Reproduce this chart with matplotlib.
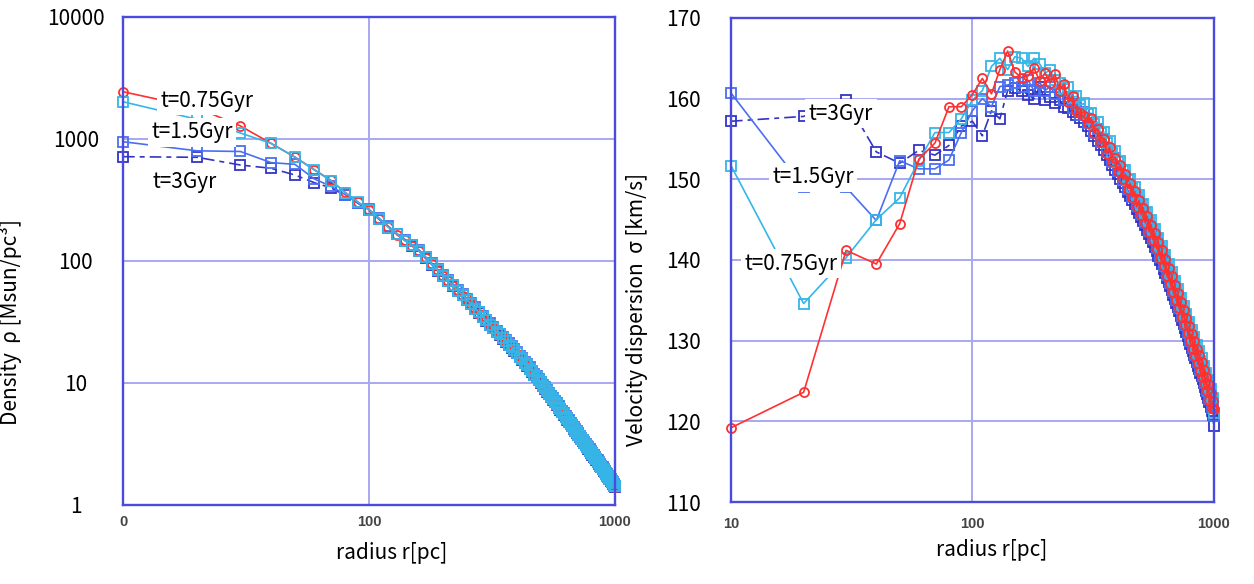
import numpy as np
import matplotlib
matplotlib.use("Agg")
import matplotlib.pyplot as plt
from matplotlib.ticker import FixedLocator, FixedFormatter, NullLocator

plt.rcParams["font.family"] = ["Noto Sans CJK JP", "DejaVu Sans"]

# =============================
# DATA
# =============================

# radial bins (pc), 10 pc spacing
radius = np.arange(10, 1001, 10)

# density rho [Msun/pc^3]
rho_075 = [2440, 1800, 1280, 920, 710, 560, 458, 365, 305,
           262, 219, 190, 164, 149, 132, 121, 105, 95.0, 83.0,
           75.0, 69.0, 62.0, 57.5, 52.0, 48.5, 44.0, 41.0, 36.5, 35.2,
           32.0, 30.4, 28.0, 26.5, 24.5, 23.4, 21.8, 20.8, 19.4, 18.7,
           17.4, 16.6, 15.5, 14.8, 13.8, 13.2, 12.3, 11.8, 11.1, 10.7,
           9.9, 9.55, 8.95, 8.62, 8.05, 7.78, 7.28, 7.02, 6.60, 6.36,
           5.98, 5.82, 5.45, 5.31, 5.00, 4.86, 4.56, 4.46, 4.20, 4.10,
           3.88, 3.80, 3.58, 3.52, 3.33, 3.26, 3.07, 3.03, 2.86, 2.81,
           2.66, 2.63, 2.47, 2.45, 2.31, 2.28, 2.16, 2.12, 2.02, 2.00,
           1.89, 1.87, 1.77, 1.76, 1.67, 1.65, 1.57, 1.55, 1.48, 1.46,
           1.40]
rho_15 = [2020, 1450, 1120, 920, 710, 557, 455, 364, 305,
          263, 222, 188, 167, 147, 135, 120, 107, 94.0, 84.5,
          76.0, 68.0, 63.0, 56.5, 53.0, 48.0, 44.8, 40.6, 38.0, 34.8,
          32.6, 30.0, 28.4, 26.2, 25.0, 23.2, 22.1, 20.6, 19.7, 18.5,
          17.7, 16.4, 15.7, 14.6, 14.0, 13.0, 12.5, 11.6, 11.3, 10.5,
          10.1, 9.45, 9.08, 8.52, 8.18, 7.68, 7.38, 6.93, 6.70, 6.29,
          6.08, 5.75, 5.55, 5.25, 5.08, 4.80, 4.64, 4.42, 4.27, 4.06,
          3.95, 3.76, 3.65, 3.48, 3.39, 3.22, 3.13, 2.99, 2.92, 2.78,
          2.72, 2.60, 2.52, 2.42, 2.36, 2.26, 2.20, 2.10, 2.06, 1.98,
          1.93, 1.85, 1.80, 1.74, 1.70, 1.63, 1.60, 1.53, 1.51, 1.44,
          1.42]
rho_mid = [950, 800, 790, 640, 620, 470, 410, 350, 300,
           265, 224, 192, 168, 150, 136, 123, 108, 96.0, 85.5,
           77.0, 69.8, 63.5, 58.0, 53.5, 49.2, 45.2, 41.7, 38.5, 35.7,
           33.0, 30.8, 28.7, 26.8, 25.3, 23.8, 22.4, 21.1, 20.0, 19.0,
           17.9, 16.8, 15.9, 15.0, 14.2, 13.4, 12.6, 11.9, 11.4, 10.8,
           10.2, 9.69, 9.20, 8.74, 8.29, 7.87, 7.49, 7.11, 6.80, 6.45,
           6.17, 5.90, 5.63, 5.39, 5.15, 4.93, 4.70, 4.53, 4.34, 4.16,
           4.01, 3.86, 3.70, 3.57, 3.44, 3.30, 3.17, 3.07, 2.96, 2.85,
           2.75, 2.66, 2.56, 2.48, 2.39, 2.32, 2.23, 2.15, 2.09, 2.03,
           1.96, 1.90, 1.83, 1.79, 1.72, 1.67, 1.62, 1.57, 1.53, 1.48,
           1.44]
rho_3 = [716, 708, 612, 575, 507, 438, 398, 345, 298,
         260, 220, 188, 165, 147, 133, 120, 105, 93.5, 83.5,
         75.0, 68.0, 62.0, 56.6, 52.2, 48.0, 44.1, 40.6, 37.5, 34.8,
         32.2, 30.0, 28.0, 26.1, 24.6, 23.1, 21.8, 20.5, 19.4, 18.4,
         17.5, 16.4, 15.5, 14.6, 13.8, 13.0, 12.3, 11.6, 11.1, 10.5,
         9.92, 9.42, 8.95, 8.50, 8.07, 7.66, 7.28, 6.92, 6.62, 6.27,
         6.00, 5.73, 5.48, 5.24, 5.01, 4.79, 4.58, 4.41, 4.22, 4.05,
         3.90, 3.75, 3.60, 3.47, 3.34, 3.21, 3.09, 2.99, 2.88, 2.77,
         2.68, 2.59, 2.49, 2.41, 2.32, 2.25, 2.17, 2.09, 2.03, 1.97,
         1.91, 1.85, 1.78, 1.74, 1.68, 1.63, 1.58, 1.53, 1.49, 1.44,
         1.40]

# velocity dispersion sigma [km/s]
sig_075 = [119.2, 123.6, 141.2, 139.5, 144.5, 152.5, 154.5, 159.0, 159.0,
           160.5, 162.5, 160.6, 163.6, 165.9, 163.3, 162.6, 162.8, 163.8, 162.2,
           163.2, 162.0, 163.0, 161.0, 161.8, 159.6, 160.3, 158.5, 158.2, 157.8,
           157.0, 157.6, 155.8, 156.3, 154.6, 155.0, 153.2, 154.0, 152.3, 152.6,
           151.0, 151.8, 150.0, 150.6, 148.8, 149.5, 147.8, 148.5, 146.6, 147.4,
           145.6, 146.5, 144.6, 145.4, 143.5, 144.4, 142.5, 143.3, 141.4, 142.2,
           140.2, 141.2, 139.2, 140.1, 138.0, 139.0, 137.0, 138.0, 136.0, 136.9,
           135.0, 135.9, 134.0, 134.8, 132.9, 133.8, 131.9, 132.8, 130.9, 131.8,
           129.9, 130.8, 129.0, 129.9, 128.1, 129.0, 127.2, 128.2, 126.3, 127.3,
           125.5, 126.4, 124.6, 125.5, 123.7, 124.6, 122.7, 123.5, 121.6, 122.5,
           121.5]
sig_15 = [151.7, 134.6, 140.3, 145.0, 147.7, 152.3, 155.8, 155.8, 157.5,
          159.8, 161.0, 164.0, 165.0, 163.6, 165.2, 165.0, 164.0, 165.0, 164.3,
          163.2, 163.5, 162.3, 162.0, 161.2, 161.4, 160.1, 160.3, 159.2, 159.4,
          158.1, 158.2, 156.9, 157.1, 155.7, 155.9, 154.5, 154.7, 153.3, 153.5,
          152.1, 152.3, 151.0, 151.2, 149.9, 150.1, 148.9, 149.1, 147.8, 148.0,
          146.8, 147.0, 145.8, 145.9, 144.7, 144.9, 143.7, 143.8, 142.6, 142.7,
          141.5, 141.7, 140.4, 140.6, 139.3, 139.5, 138.3, 138.5, 137.2, 137.4,
          136.2, 136.4, 135.2, 135.3, 134.1, 134.3, 133.1, 133.3, 132.1, 132.3,
          131.1, 131.3, 130.2, 130.4, 129.3, 129.5, 128.4, 128.7, 127.5, 127.8,
          126.7, 126.9, 125.8, 126.0, 124.9, 125.1, 123.9, 124.0, 122.8, 122.9,
          121.0]
sig_mid = [160.7, 149.0, 149.0, 144.9, 152.3, 151.3, 151.3, 152.4, 155.8,
           158.5, 160.0, 159.0, 161.5, 161.7, 162.0, 161.5, 162.3, 161.0, 162.0,
           161.0, 161.5, 160.6, 161.0, 159.8, 160.2, 158.9, 159.3, 158.0, 158.4,
           157.0, 157.4, 155.8, 156.2, 154.6, 155.0, 153.4, 153.8, 152.2, 152.6,
           151.0, 151.4, 149.9, 150.3, 148.8, 149.2, 147.8, 148.2, 146.7, 147.1,
           145.7, 146.1, 144.7, 145.0, 143.6, 144.0, 142.6, 142.9, 141.5, 141.8,
           140.4, 140.8, 139.3, 139.7, 138.2, 138.6, 137.2, 137.6, 136.1, 136.5,
           135.1, 135.5, 134.1, 134.4, 133.0, 133.4, 132.0, 132.4, 131.0, 131.4,
           130.0, 130.4, 129.1, 129.5, 128.2, 128.6, 127.3, 127.8, 126.4, 126.9,
           125.6, 126.0, 124.7, 125.1, 123.8, 124.2, 122.8, 123.1, 121.7, 122.1,
           120.6]
sig_3 = [157.2, 157.8, 159.8, 153.4, 152.0, 153.6, 153.0, 154.2, 156.6,
         157.2, 155.4, 158.5, 157.5, 161.0, 161.3, 161.0, 160.5, 160.0, 161.5,
         159.8, 160.2, 159.5, 159.8, 159.0, 158.9, 158.4, 158.0, 157.6, 157.1,
         156.6, 156.0, 155.4, 154.8, 154.2, 153.6, 153.0, 152.4, 151.8, 151.2,
         150.6, 150.1, 149.5, 149.0, 148.4, 147.9, 147.4, 146.9, 146.3, 145.8,
         145.3, 144.8, 144.3, 143.7, 143.2, 142.7, 142.2, 141.6, 141.1, 140.5,
         140.0, 139.5, 138.9, 138.4, 137.8, 137.3, 136.8, 136.3, 135.7, 135.2,
         134.7, 134.2, 133.7, 133.1, 132.6, 132.1, 131.6, 131.1, 130.6, 130.1,
         129.6, 129.1, 128.7, 128.2, 127.8, 127.3, 126.9, 126.5, 126.0, 125.6,
         125.2, 124.7, 124.3, 123.8, 123.4, 122.9, 122.4, 121.8, 121.3, 120.8,
         119.4]

rho_ticks = [1, 10, 100, 1000, 10000]
rho_ticklabels = ["1", "10", "100", "1000", "10000"]
sig_ticks = [110, 120, 130, 140, 150, 160, 170]
left_xticklabels = ["0", "100", "1000"]
right_xticklabels = ["10", "100", "1000"]

# =============================
# STYLE
# =============================

RED = "#ff3030"
CYAN = "#35b6e8"
MID = "#4a6ff0"
DARK = "#3434c4"
FRAME = "#4a4ade"
GRID = "#a8a8f0"


def style_axes(ax):
    for sp in ax.spines.values():
        sp.set_color(FRAME)
        sp.set_linewidth(1.7)
    ax.set_xscale("log")
    ax.set_xlim(10, 1000)
    ax.xaxis.set_major_locator(FixedLocator([10, 100, 1000]))
    ax.xaxis.set_minor_locator(NullLocator())
    ax.grid(True, color=GRID, linewidth=1.4)
    ax.set_axisbelow(True)
    ax.tick_params(axis="both", length=0)
    ax.tick_params(axis="y", labelsize=15, pad=34)
    for lab in ax.get_yticklabels():
        lab.set_horizontalalignment("center")


def draw(ax, y_list, order):
    specs = {
        "dark": (y_list[3], DARK, "s", (0, (7, 3, 3, 3))),
        "mid": (y_list[2], MID, "s", "-"),
        "cyan": (y_list[1], CYAN, "s", "-"),
        "red": (y_list[0], RED, "o", "-"),
    }
    for key in order:
        y, c, m, ls = specs[key]
        ax.plot(radius, y, color=c, marker=m, markersize=6.5, markerfacecolor="none",
                markeredgewidth=1.3, linewidth=1.2, linestyle=ls, clip_on=False)


def label(ax, x, y, s):
    ax.text(x, y, s, transform=ax.transAxes, fontsize=15, ha="center", va="center",
            bbox=dict(facecolor="white", edgecolor="none", pad=2.5), zorder=5)


fig = plt.figure(figsize=(12.54, 5.84), dpi=100)

# ---- density panel ----
ax1 = fig.add_axes([0.0981, 0.1353, 0.3923, 0.8356])
ax1.set_yscale("log")
ax1.set_ylim(1, 10000)
ax1.yaxis.set_major_locator(FixedLocator(rho_ticks))
ax1.yaxis.set_major_formatter(FixedFormatter(rho_ticklabels))
ax1.yaxis.set_minor_locator(NullLocator())
style_axes(ax1)
ax1.xaxis.set_major_formatter(FixedFormatter(left_xticklabels))
draw(ax1, [rho_075, rho_15, rho_mid, rho_3], ["dark", "mid", "red", "cyan"])
label(ax1, 0.171, 0.828, "t=0.75Gyr")
label(ax1, 0.140, 0.764, "t=1.5Gyr")
label(ax1, 0.126, 0.662, "t=3Gyr")
ax1.set_ylabel("Density  ρ [Msun/pc³]", fontsize=15)
ax1.yaxis.set_label_coords(-0.205, 0.375)
ax1.set_xlabel("radius r[pc]", fontsize=15)
ax1.xaxis.set_label_coords(0.547, -0.098)
ax1.xaxis.label.set_va("center")
ax1.tick_params(axis="x", pad=7)

# ---- velocity dispersion panel ----
ax2 = fig.add_axes([0.5829, 0.1404, 0.3850, 0.8288])
ax2.set_ylim(110, 170)
ax2.yaxis.set_major_locator(FixedLocator(sig_ticks))
style_axes(ax2)
ax2.xaxis.set_major_formatter(FixedFormatter(right_xticklabels))
draw(ax2, [sig_075, sig_15, sig_mid, sig_3], ["dark", "mid", "cyan", "red"])
label(ax2, 0.228, 0.802, "t=3Gyr")
label(ax2, 0.170, 0.671, "t=1.5Gyr")
label(ax2, 0.124, 0.492, "t=0.75Gyr")
ax2.set_ylabel("Velocity dispersion  σ [km/s]", fontsize=15)
ax2.yaxis.set_label_coords(-0.172, 0.397)
ax2.set_xlabel("radius r[pc]", fontsize=15)
ax2.xaxis.set_label_coords(0.54, -0.10)
ax2.xaxis.label.set_va("center")
ax2.tick_params(axis="x", pad=11)

for ax in (ax1, ax2):
    for lab in ax.get_xticklabels():
        lab.set_family(["Liberation Sans Narrow", "Liberation Sans", "DejaVu Sans"])
        lab.set_fontweight("bold")
        lab.set_fontsize(10.5)
        lab.set_color("#444444")

fig.savefig("out.png", dpi=100)
